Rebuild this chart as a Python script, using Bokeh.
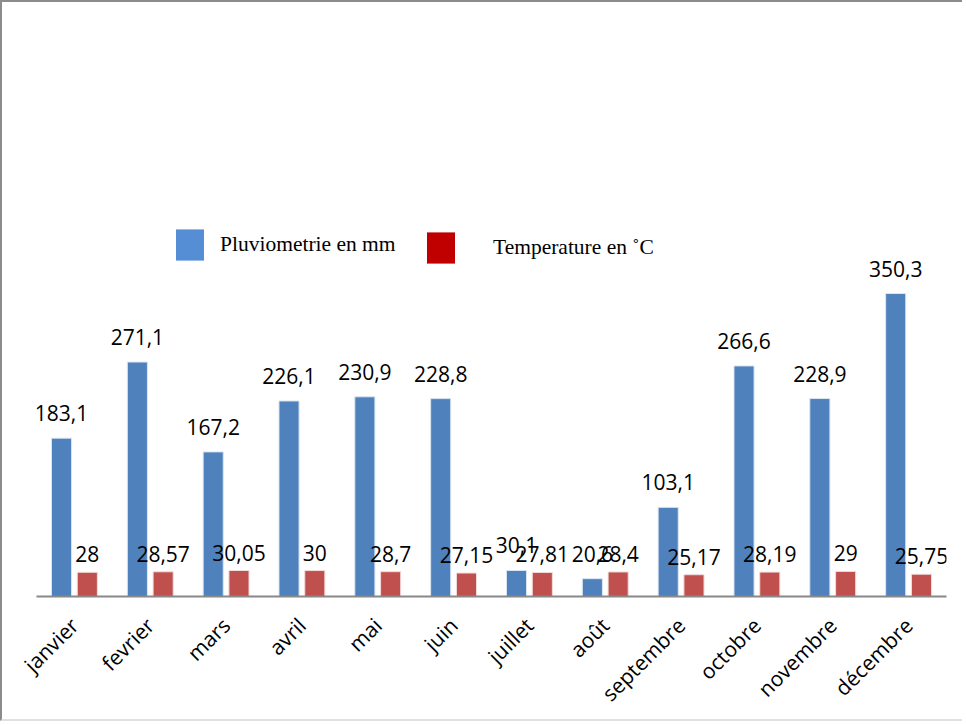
from bokeh.plotting import figure
from bokeh.models import ColumnDataSource, Range1d, LabelSet, Legend, LegendItem
from bokeh.transform import dodge
from bokeh.core.properties import value
from bokeh.embed import file_html
from bokeh.resources import INLINE

months = ["janvier", "fevrier", "mars", "avril", "mai", "juin", "juillet",
          "août", "septembre", "octobre", "novembre", "décembre"]
pluie = [183.1, 271.1, 167.2, 226.1, 230.9, 228.8, 30.1, 20.6, 103.1, 266.6, 228.9, 350.3]
temp = [28, 28.57, 30.05, 30, 28.7, 27.15, 27.81, 28.4, 25.17, 28.19, 29, 25.75]

def fr(v):
    return ("%g" % v).replace(".", ",")

src = ColumnDataSource(dict(
    m=months, pluie=pluie, temp=temp,
    pl=[fr(v) for v in pluie], tl=[fr(v) for v in temp],
))

p = figure(x_range=months, y_range=Range1d(0, 666), width=962, height=721,
           output_backend="svg", toolbar_location=None,
           min_border_left=34, min_border_right=18, min_border_top=18,
           min_border_bottom=127)
p.styles = {"border-top": "2px solid #8c8c8c", "border-left": "2px solid #8c8c8c",
            "border-bottom": "2px solid #e0e0e0"}
p.outline_line_color = None
p.xgrid.grid_line_color = None
p.ygrid.grid_line_color = None
p.yaxis.visible = False
p.x_range.range_padding = 0

blue = "#4F81BD"
red = "#C0504D"
p.vbar(x=dodge("m", -0.17, range=p.x_range), top="pluie", width=0.265, source=src,
       fill_color=blue, line_color="#DCE6F2", line_width=1)
p.vbar(x=dodge("m", 0.17, range=p.x_range), top="temp", width=0.265, source=src,
       fill_color=red, line_color="#F2DCDB", line_width=1)

font = "Open Sans"
p.add_layout(LabelSet(x=dodge("m", -0.17, range=p.x_range), y="pluie", text="pl", source=src,
                      text_align="center", text_baseline="alphabetic", y_offset=17,
                      text_font=value(font), text_font_size="21px", text_color="#000000"))
p.add_layout(LabelSet(x=dodge("m", 0.17, range=p.x_range), y="temp", text="tl", source=src,
                      text_align="center", text_baseline="alphabetic", y_offset=10,
                      text_font=value(font), text_font_size="21px", text_color="#000000"))

ax = p.xaxis[0]
ax.axis_line_color = "#888888"
ax.axis_line_width = 2
ax.major_tick_line_color = None
ax.minor_tick_line_color = None
ax.major_label_orientation = 0.785398
ax.major_label_text_font = font
ax.major_label_text_font_size = "21px"
ax.major_label_text_color = "#000000"
ax.major_label_standoff = 19

# legend proxies (zero-height bars, invisible in the plot)
proxy = ColumnDataSource(dict(x=["janvier"], top=[0]))
r1 = p.vbar(x="x", top="top", width=0.01, source=proxy, fill_color="#558ED5", line_color=None)
r2 = p.vbar(x="x", top="top", width=0.01, source=proxy, fill_color="#C00000", line_color=None)

def mk_legend(r, label, loc, standoff):
    return Legend(items=[LegendItem(label=label, renderers=[r])], location=loc,
                  orientation="horizontal", glyph_width=35, glyph_height=39,
                  label_standoff=standoff, padding=0, margin=0, spacing=0,
                  border_line_color=None, background_fill_alpha=0,
                  label_text_font="Liberation Serif", label_text_font_size="21.5px",
                  label_text_color="#000000", label_height=39)

p.add_layout(mk_legend(r1, "Pluviometrie en mm", (136, 332), 13), "center")
p.add_layout(mk_legend(r2, "Temperature en ˚C", (387, 329), 35), "center")

open("out.html", "w").write(file_html(p, INLINE))
